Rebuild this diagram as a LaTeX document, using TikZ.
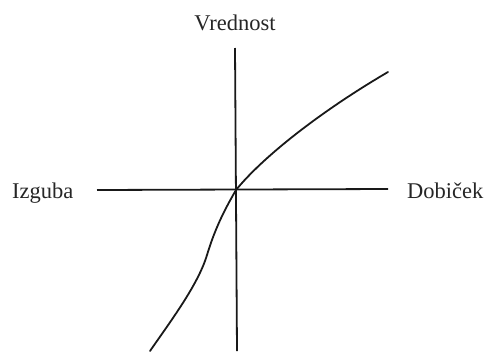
\documentclass[tikz,border=0pt]{standalone}
\usepackage{fontspec}
\setmainfont{Liberation Serif}
\begin{document}
\begin{tikzpicture}[x=1pt,y=-1pt,
  axis/.style={line width=1.8pt,black!90},
  curve/.style={line width=1.8pt,black!90,line cap=round},
  lbl/.style={font=\fontsize{22.5}{26}\selectfont,text=black!85,inner sep=0pt}]
\useasboundingbox (0,0) rectangle (486,351);
\coordinate (vtop) at (235,48);
\coordinate (vbot) at (237,351);
\coordinate (hl) at (97,190);
\coordinate (hr) at (388,189);
\coordinate (o) at (236,190);
\coordinate (lossend) at (150,351);
\coordinate (lossmid) at (207,255);
\coordinate (gainend) at (388,72);
\draw[axis] (vtop) -- (vbot);
\draw[axis] (hl) -- (hr);
\node[lbl,anchor=base] (vred) at (235,30) {Vrednost};
\node[lbl,anchor=base west] (izg) at (12,198) {Izguba};
\node[lbl,anchor=base west] (dob) at (407,198) {Dobiček};
\draw[curve] (lossend) .. controls (170,322) and (198,285) .. (lossmid)
  .. controls (214,232) and (222,214) .. (o)
  .. controls (262,158) and (318,113) .. (gainend);
\end{tikzpicture}
\end{document}
